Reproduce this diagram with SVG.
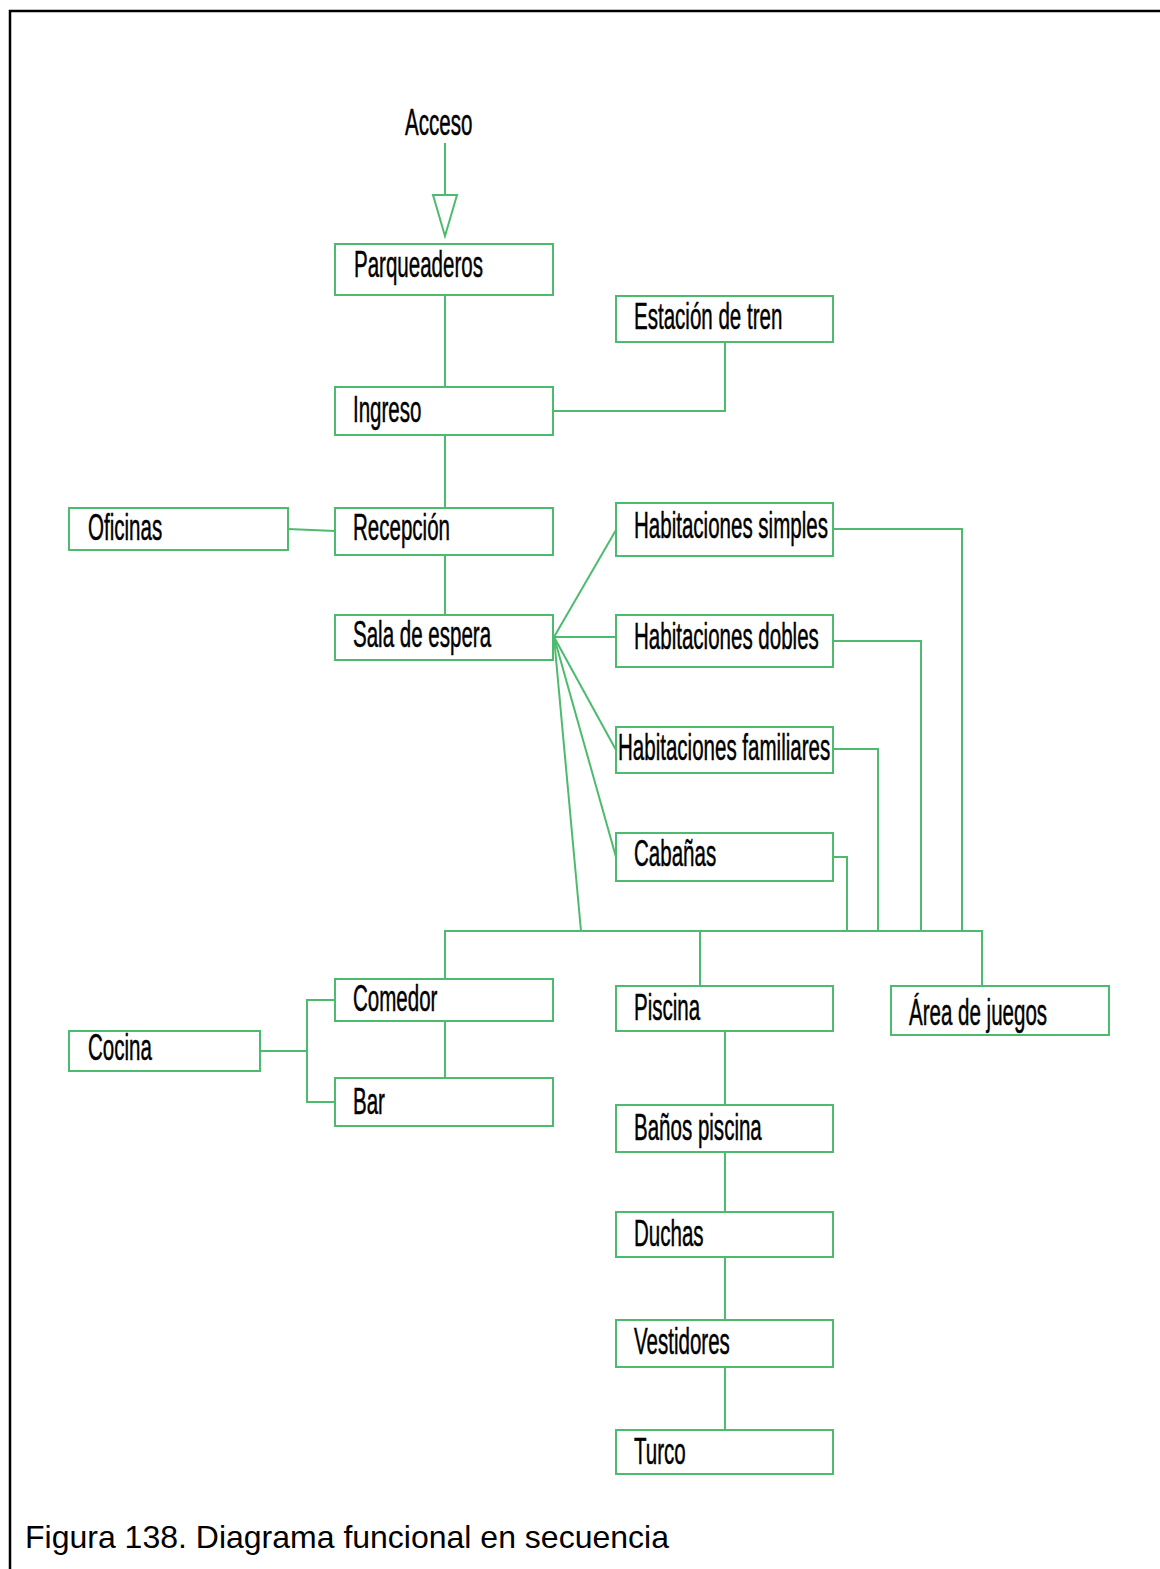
<svg xmlns="http://www.w3.org/2000/svg" width="1160" height="1569" viewBox="0 0 1160 1569">
<style>
.box{fill:#fff;stroke:#4dbb6e;stroke-width:2}
.ln{fill:none;stroke:#4dbb6e;stroke-width:2}
.t{font-family:"Liberation Sans",Arial,sans-serif;font-size:37px;fill:#000;stroke:#000;stroke-width:0.5}
.cap{font-family:"Liberation Sans",Arial,sans-serif;font-size:32px;fill:#000}
</style>
<rect x="0" y="0" width="1160" height="1569" fill="#fff"/>
<path d="M10,1569 V11 H1160" fill="none" stroke="#000" stroke-width="2.5"/>
<g id="connectors">
<path class="ln" d="M445,143 V195"/>
<polygon points="433,195 457,195 445,236" fill="#fff" stroke="#4dbb6e" stroke-width="2"/>
<path class="ln" d="M445,295 V387"/>
<path class="ln" d="M553,411 H725 V342"/>
<path class="ln" d="M445,435 V508"/>
<path class="ln" d="M288,529 L335,531"/>
<path class="ln" d="M445,555 V615"/>
<path class="ln" d="M554,637 L616,530"/>
<path class="ln" d="M554,637 H616"/>
<path class="ln" d="M554,637 L616,750"/>
<path class="ln" d="M554,637 L616,857"/>
<path class="ln" d="M554,637 L581,931"/>
<path class="ln" d="M833,529 H962 V931"/>
<path class="ln" d="M833,641 H921 V931"/>
<path class="ln" d="M833,749 H878 V931"/>
<path class="ln" d="M833,857 H847 V931"/>
<path class="ln" d="M445,979 V931 H982 V986"/>
<path class="ln" d="M700,931 V986"/>
<path class="ln" d="M445,1021 V1078"/>
<path class="ln" d="M260,1051 H307"/>
<path class="ln" d="M335,1000 H307 V1102 H335"/>
<path class="ln" d="M725,1031 V1105"/>
<path class="ln" d="M725,1152 V1212"/>
<path class="ln" d="M725,1257 V1320"/>
<path class="ln" d="M725,1367 V1430"/>
</g>
<g id="acceso"><text class="t" transform="translate(405,135) scale(0.555,1)">Acceso</text></g>
<g id="parqueaderos"><rect class="box" x="335" y="244" width="218" height="51"/><text class="t" transform="translate(354,277) scale(0.555,1)">Parqueaderos</text></g>
<g id="estacion"><rect class="box" x="616" y="296" width="217" height="46"/><text class="t" transform="translate(634,329) scale(0.555,1)">Estación de tren</text></g>
<g id="ingreso"><rect class="box" x="335" y="387" width="218" height="48"/><text class="t" transform="translate(353,422) scale(0.555,1)">Ingreso</text></g>
<g id="oficinas"><rect class="box" x="69" y="508" width="219" height="42"/><text class="t" transform="translate(88,540) scale(0.555,1)">Oficinas</text></g>
<g id="recepcion"><rect class="box" x="335" y="508" width="218" height="47"/><text class="t" transform="translate(353,540) scale(0.555,1)">Recepción</text></g>
<g id="sala"><rect class="box" x="335" y="615" width="218" height="45"/><text class="t" transform="translate(353,647) scale(0.555,1)">Sala de espera</text></g>
<g id="hab-simples"><rect class="box" x="616" y="503" width="217" height="53"/><text class="t" transform="translate(634,538) scale(0.555,1)">Habitaciones simples</text></g>
<g id="hab-dobles"><rect class="box" x="616" y="615" width="217" height="52"/><text class="t" transform="translate(634,649) scale(0.555,1)">Habitaciones dobles</text></g>
<g id="hab-familiares"><rect class="box" x="616" y="727" width="217" height="46"/><text class="t" transform="translate(618,760) scale(0.555,1)">Habitaciones familiares</text></g>
<g id="cabanas"><rect class="box" x="616" y="833" width="217" height="48"/><text class="t" transform="translate(634,866) scale(0.555,1)">Cabañas</text></g>
<g id="comedor"><rect class="box" x="335" y="979" width="218" height="42"/><text class="t" transform="translate(353,1011) scale(0.555,1)">Comedor</text></g>
<g id="cocina"><rect class="box" x="69" y="1031" width="191" height="40"/><text class="t" transform="translate(88,1060) scale(0.555,1)">Cocina</text></g>
<g id="bar"><rect class="box" x="335" y="1078" width="218" height="48"/><text class="t" transform="translate(353,1114) scale(0.555,1)">Bar</text></g>
<g id="piscina"><rect class="box" x="616" y="986" width="217" height="45"/><text class="t" transform="translate(634,1020) scale(0.555,1)">Piscina</text></g>
<g id="area-juegos"><rect class="box" x="891" y="986" width="218" height="49"/><text class="t" transform="translate(909,1025) scale(0.555,1)">Área de juegos</text></g>
<g id="banos"><rect class="box" x="616" y="1105" width="217" height="47"/><text class="t" transform="translate(634,1140) scale(0.555,1)">Baños piscina</text></g>
<g id="duchas"><rect class="box" x="616" y="1212" width="217" height="45"/><text class="t" transform="translate(634,1246) scale(0.555,1)">Duchas</text></g>
<g id="vestidores"><rect class="box" x="616" y="1320" width="217" height="47"/><text class="t" transform="translate(634,1354) scale(0.555,1)">Vestidores</text></g>
<g id="turco"><rect class="box" x="616" y="1430" width="217" height="44"/><text class="t" transform="translate(634,1464) scale(0.555,1)">Turco</text></g>
<g id="caption"><text class="cap" x="25" y="1548">Figura 138. Diagrama funcional en secuencia</text></g>
</svg>
